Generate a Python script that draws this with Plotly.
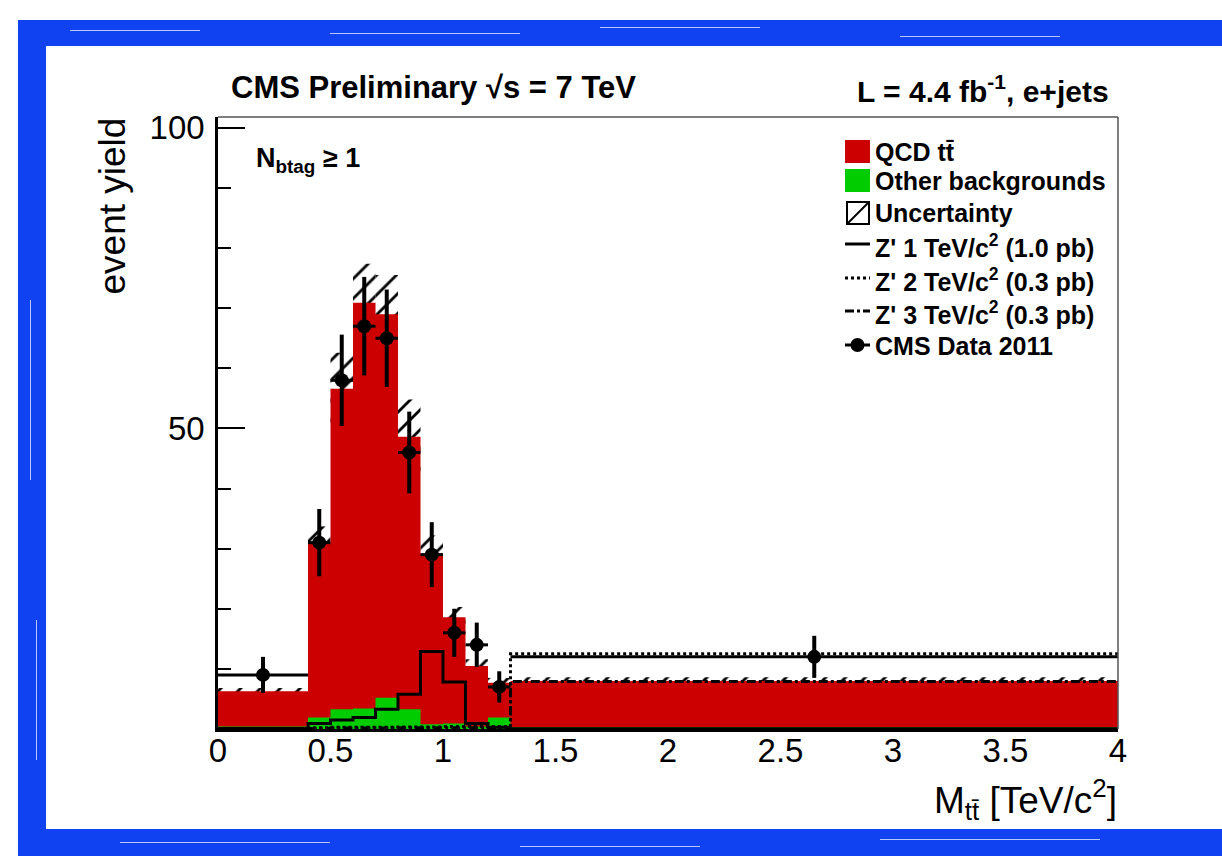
import plotly.graph_objects as go

# ---------------- data ----------------
bin_edges = [0.0, 0.4, 0.5, 0.6, 0.7, 0.8, 0.9, 1.0, 1.1, 1.2, 1.3, 4.0]
other_bkg = [0.4, 1.9, 3.3, 3.4, 5.2, 3.3, 0.8, 0.9, 0.4, 1.9, 0.3]
qcd_ttbar = [5.9, 29.1, 53.3, 67.5, 63.8, 45.3, 28.4, 17.7, 10.1, 5.8, 7.7]
bkg_unc = [0.5, 2.7, 6.0, 6.5, 6.5, 6.2, 3.0, 1.7, 1.1, 0.8, 0.6]
zprime_1tev = [0.1, 0.9, 1.5, 1.9, 3.3, 5.8, 12.9, 7.8, 0.9, 0.3, 0.05]
zprime_2tev = [0.05, 0.2, 0.3, 0.3, 0.3, 0.35, 0.35, 0.4, 0.4, 0.4, 12.5]
zprime_3tev = [0.05, 0.1, 0.15, 0.15, 0.15, 0.2, 0.2, 0.2, 0.2, 0.25, 7.9]
data_counts = [9, 31, 58, 67, 65, 46, 29, 16, 14, 7, 12]
data_err = [3.0, 5.6, 7.6, 8.2, 8.1, 6.8, 5.4, 4.0, 3.7, 2.6, 3.5]
x_tick_vals = [0, 0.5, 1, 1.5, 2, 2.5, 3, 3.5, 4]
x_tick_text = ["0", "0.5", "1", "1.5", "2", "2.5", "3", "3.5", "4"]
y_tick_vals = [50, 100]
y_tick_text = ["50", "100"]

# ---------------- geometry helpers ----------------
W, H = 1222, 856
PL, PR, PT, PB = 218, 1118, 117, 729
Y_MAX = 101.8
FONT = "Liberation Sans, Arial, Helvetica, sans-serif"
RED = "#cc0000"
GREEN = "#00cc00"
BLUE = "#1042f2"


def px(x):
    return (x - PL) / (PR - PL)


def py(y):
    return (PB - y) / (PB - PT)


centers = [(a + b) / 2 for a, b in zip(bin_edges[:-1], bin_edges[1:])]
widths = [b - a for a, b in zip(bin_edges[:-1], bin_edges[1:])]
half_w = [w / 2 for w in widths]
totals = [g + q for g, q in zip(other_bkg, qcd_ttbar)]


def step(vals):
    return list(bin_edges), list(vals) + [vals[-1]]


fig = go.Figure()

# stacked backgrounds as filled step histograms (total first, then other bkg on top)
sx, sy = step(totals)
fig.add_trace(go.Scatter(x=sx, y=sy, mode="lines", line_shape="hv", fill="tozeroy",
                         fillcolor=RED, line=dict(width=0, color=RED), showlegend=False))
sx, sy = step(other_bkg)
fig.add_trace(go.Scatter(x=sx, y=sy, mode="lines", line_shape="hv", fill="tozeroy",
                         fillcolor=GREEN, line=dict(width=0, color=GREEN), showlegend=False))

# uncertainty band (hatched)
fig.add_trace(go.Bar(x=centers, y=[2 * u for u in bkg_unc], width=widths,
                     base=[t - u for t, u in zip(totals, bkg_unc)],
                     marker=dict(color="rgba(0,0,0,0)", line=dict(width=0),
                                 pattern=dict(shape="/", fgcolor="black", fgopacity=1,
                                              bgcolor="rgba(0,0,0,0)",
                                              size=14, solidity=0.2)),
                     showlegend=False))

for vals, dash in [(zprime_1tev, "solid"), (zprime_2tev, "dot"), (zprime_3tev, "dashdot")]:
    sx, sy = step(vals)
    fig.add_trace(go.Scatter(x=sx, y=sy, mode="lines", line_shape="hv",
                             line=dict(color="black", width=3, dash=dash),
                             showlegend=False))

# data
fig.add_trace(go.Scatter(x=centers, y=data_counts, mode="markers",
                         marker=dict(color="black", size=14),
                         error_y=dict(type="data", array=data_err, color="black",
                                      thickness=4, width=0),
                         error_x=dict(type="data", array=half_w, color="black",
                                      thickness=3, width=0),
                         showlegend=False))

shapes = []
annotations = []

# frame top/right
shapes.append(dict(type="line", xref="paper", yref="paper", x0=0, x1=1, y0=1, y1=1,
                   line=dict(color="#555", width=1.5)))
shapes.append(dict(type="line", xref="paper", yref="paper", x0=1, x1=1, y0=0, y1=1,
                   line=dict(color="#555", width=1.5)))

# ---------------- legend (manual) ----------------
LX0, LX1, TX = 845, 870, 873
rows = [152, 181, 213, 246, 280, 313, 346]
labels = ["QCD t<span>t̄</span>", "Other backgrounds", "Uncertainty",
          "Z' 1 TeV/c<sup>2</sup> (1.0 pb)", "Z' 2 TeV/c<sup>2</sup> (0.3 pb)",
          "Z' 3 TeV/c<sup>2</sup> (0.3 pb)", "CMS Data 2011"]
for r, lab in zip(rows, labels):
    annotations.append(dict(xref="paper", yref="paper", x=px(TX), y=py(r), xanchor="left",
                            yanchor="middle", showarrow=False, text="<b>" + lab + "</b>",
                            font=dict(family=FONT, size=25, color="black")))
shapes.append(dict(type="rect", xref="paper", yref="paper", x0=px(LX0), x1=px(LX1),
                   y0=py(rows[0] + 11), y1=py(rows[0] - 12), fillcolor=RED, line=dict(width=0)))
shapes.append(dict(type="rect", xref="paper", yref="paper", x0=px(LX0), x1=px(LX1),
                   y0=py(rows[1] + 11), y1=py(rows[1] - 12), fillcolor=GREEN, line=dict(width=0)))
shapes.append(dict(type="rect", xref="paper", yref="paper", x0=px(LX0 + 2), x1=px(LX1 - 1),
                   y0=py(rows[2] + 11), y1=py(rows[2] - 11), fillcolor="white",
                   line=dict(color="black", width=2)))
shapes.append(dict(type="line", xref="paper", yref="paper", x0=px(LX0 + 2), x1=px(LX1 - 1),
                   y0=py(rows[2] + 11), y1=py(rows[2] - 11), line=dict(color="black", width=2)))
for r, dash in [(rows[3], "solid"), (rows[4], "dot"), (rows[5], "dashdot")]:
    shapes.append(dict(type="line", xref="paper", yref="paper", x0=px(LX0), x1=px(LX1),
                       y0=py(r - 2), y1=py(r - 2), line=dict(color="black", width=3, dash=dash)))
shapes.append(dict(type="line", xref="paper", yref="paper", x0=px(LX0), x1=px(LX1),
                   y0=py(rows[6] - 1), y1=py(rows[6] - 1), line=dict(color="black", width=3)))
shapes.append(dict(type="circle", xref="paper", yref="paper", x0=px(850.5), x1=px(864.5),
                   y0=py(rows[6] + 6), y1=py(rows[6] - 8), fillcolor="black",
                   line=dict(color="black", width=0)))

# ---------------- texts ----------------
annotations.append(dict(xref="paper", yref="paper", x=px(229), y=py(88), xanchor="left",
                        yanchor="middle", showarrow=False,
                        text="<b>CMS Preliminary √s = 7 TeV</b>",
                        font=dict(family=FONT, size=31, color="black")))
annotations.append(dict(xref="paper", yref="paper", x=px(1111), y=py(89), xanchor="right",
                        yanchor="middle", showarrow=False,
                        text="<b>L = 4.4 fb<sup>-1</sup>, e+jets</b>",
                        font=dict(family=FONT, size=30, color="black")))
annotations.append(dict(xref="paper", yref="paper", x=px(254), y=py(160), xanchor="left",
                        yanchor="middle", showarrow=False,
                        text="<b>N<sub>btag</sub> ≥ 1</b>",
                        font=dict(family=FONT, size=27, color="black")))
annotations.append(dict(xref="paper", yref="paper", x=px(112), y=py(116), xanchor="center",
                        yanchor="top", textangle=-90, showarrow=False,
                        text="event yield",
                        font=dict(family=FONT, size=37, color="black")))
annotations.append(dict(xref="paper", yref="paper", x=px(1119), y=py(799), xanchor="right",
                        yanchor="middle", showarrow=False,
                        text="M<sub>tt̄</sub> [TeV/c<sup>2</sup>]",
                        font=dict(family=FONT, size=37, color="black")))

# ---------------- blue scribbled border ----------------
border_rects = [
    (18, 20, 1222, 46),   # top
    (18, 20, 46, 856),    # left
    (18, 829, 1222, 856),  # bottom
]
for x0, y0, x1, y1 in border_rects:
    shapes.append(dict(type="rect", xref="paper", yref="paper", x0=px(x0), x1=px(x1),
                       y0=py(y1), y1=py(y0), fillcolor=BLUE, line=dict(width=0), layer="above"))
streaks = [(70, 30, 200, 31), (330, 33, 520, 34), (600, 27, 760, 28), (900, 36, 1060, 37),
           (120, 842, 330, 843), (520, 846, 700, 847), (880, 839, 1100, 840),
           (30, 300, 31, 480), (36, 620, 37, 760)]
for x0, y0, x1, y1 in streaks:
    shapes.append(dict(type="rect", xref="paper", yref="paper", x0=px(x0), x1=px(x1),
                       y0=py(y1), y1=py(y0), fillcolor="rgba(255,255,255,0.7)",
                       line=dict(width=0), layer="above"))

fig.update_layout(
    width=W, height=H,
    margin=dict(l=PL, r=W - PR, t=PT, b=H - PB, pad=0),
    paper_bgcolor="white", plot_bgcolor="white",
    barmode="overlay", showlegend=False,
    shapes=shapes, annotations=annotations,
    font=dict(family=FONT, color="black"),
)
fig.update_xaxes(range=[0, 4], tickvals=x_tick_vals, ticktext=x_tick_text,
                 showgrid=False, zeroline=False, showline=True, linecolor="black",
                 linewidth=2.5, ticks="", tickfont=dict(family=FONT, size=33),
                 ticklabelstandoff=-9)
fig.update_yaxes(range=[0, Y_MAX], tickvals=y_tick_vals, ticktext=y_tick_text,
                 showgrid=False, zeroline=False, showline=True, linecolor="black",
                 linewidth=2.5, ticks="inside", ticklen=27, tickwidth=2, tickcolor="black",
                 minor=dict(dtick=10, tick0=0, ticks="inside", ticklen=13, tickwidth=2,
                            tickcolor="black", showgrid=False),
                 tickfont=dict(family=FONT, size=33), ticklabelstandoff=4)

fig.write_html("out.html", config={"displayModeBar": False},
               post_script="document.body.style.margin='0px';document.body.style.overflow='hidden';")
